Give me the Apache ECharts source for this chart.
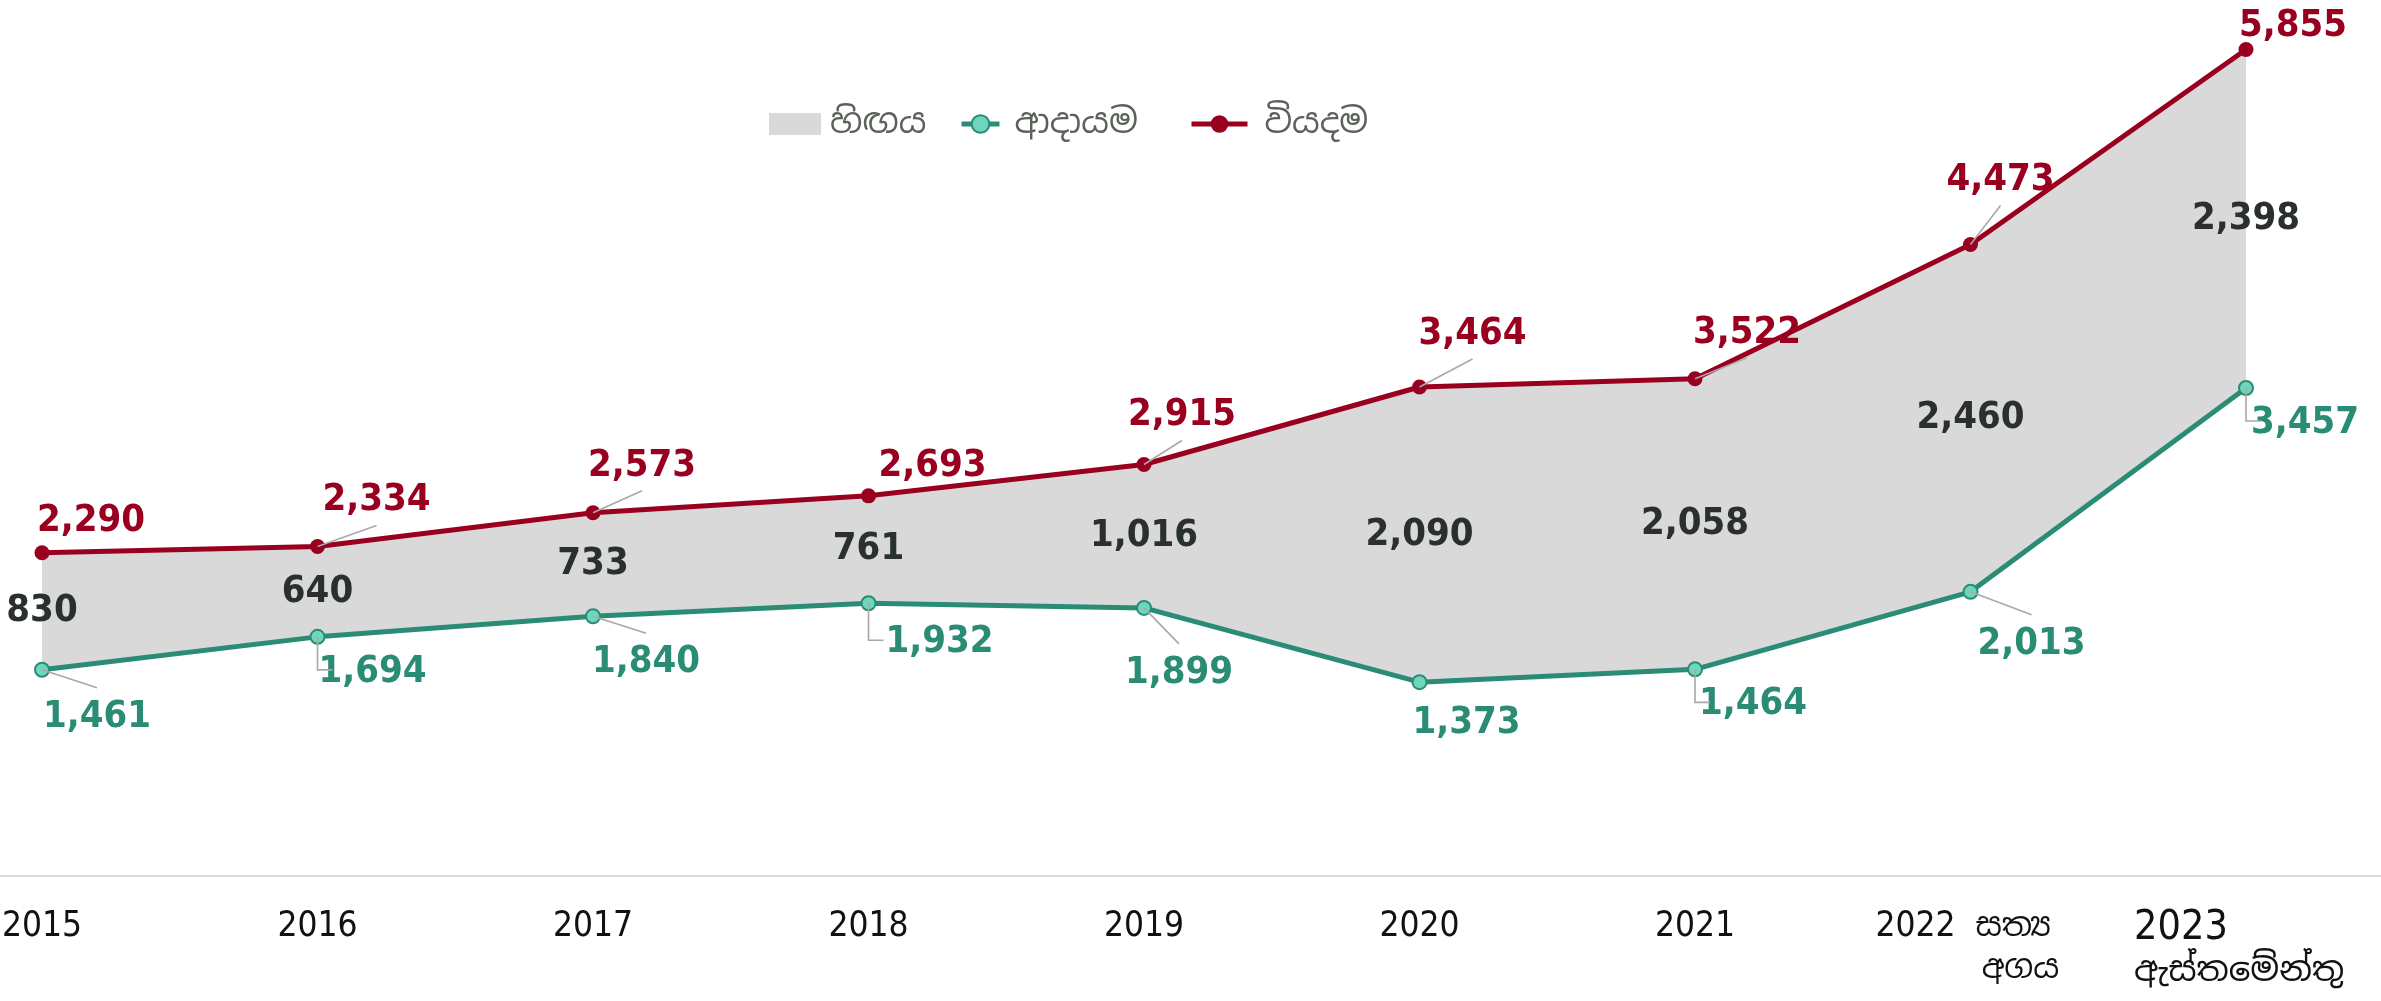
<!DOCTYPE html>
<html>
<head>
<meta charset="utf-8">
<script src="https://cdn.jsdelivr.net/npm/echarts@6/dist/echarts.min.js"></script>
<style>
  html, body { margin: 0; padding: 0; background: #fff; }
  #chart { width: 2381px; height: 1001px; }
</style>
</head>
<body>
<div id="chart"></div>
<script>
// data
var years = [2015, 2016, 2017, 2018, 2019, 2020, 2021, 2022, 2023];
var income = [1461, 1694, 1840, 1932, 1899, 1373, 1464, 2013, 3457];
var expense = [2290, 2334, 2573, 2693, 2915, 3464, 3522, 4473, 5855];
var deficit = [830, 640, 733, 761, 1016, 2090, 2058, 2460, 2398];
var legendNames = ['හිඟය', 'ආදායම', 'වියදම'];
var actualText = ['සත්‍ය', 'අගය'];
var estimateText = 'ඇස්තමේන්තු';

// label offsets and leader line kind (0 none, 1 straight, 2 elbow) - layout only
var redOff = [[49, -32], [59, -46], [49, -47], [64, -30], [38, -49], [53, -53], [52, -46], [30, -64], [47, -23]];
var greenOff = [[55, 47], [55, 35], [53, 46], [71, 39], [35, 65], [47, 41], [58, 35], [61, 52], [59, 35]];
var redLead = [0, 1, 1, 0, 1, 1, 1, 1, 0];
var greenLead = [1, 2, 1, 2, 1, 0, 2, 1, 2];

var RED = '#990020';
var GREEN = '#2a8c74';
var GREEN_FILL = '#6fd6bd';
var GREY = '#d9d9d9';
var DARK = '#2a302b';
var LEADER = '#a8a8a8';
var NUM_FONT = "'Liberation Sans Narrow', 'DejaVu Sans Condensed', 'Roboto', sans-serif";
var SI_FONT = "'Noto Sans Sinhala', 'Iskoola Pota', 'Noto Sans', sans-serif";

function fmt(n) {
    return n.toLocaleString('en-US');
}

function pairs(arr) {
    return years.map(function (y, i) { return [y, arr[i]]; });
}

// thin grey leader from a point towards its label
function leader(offs, kinds, gap) {
    return function (params, api) {
        var i = params.dataIndex;
        if (!kinds[i]) return { type: 'group', children: [] };
        var p = api.coord([api.value(0), api.value(1)]);
        var cx = p[0] + offs[i][0], cy = p[1] + offs[i][1];
        var pts = kinds[i] === 1
            ? [p, [cx, cy + gap]]
            : [p, [p[0], cy - 2], [p[0] + 15, cy - 2]];
        return {
            type: 'polyline',
            shape: { points: pts },
            style: { stroke: LEADER, lineWidth: 1.6, fill: 'none' }
        };
    };
}

function valueLabel(color) {
    return {
        show: true,
        position: 'inside',
        color: color,
        textBorderWidth: 0,
        fontFamily: NUM_FONT,
        fontWeight: 'bold',
        fontSize: 38,
        formatter: function (p) { return fmt(p.value[1]); }
    };
}

var legendText = { fontFamily: SI_FONT, fontSize: 34, color: '#5b625a' };

var chart = echarts.init(document.getElementById('chart'));

chart.setOption({
    animation: false,
    legend: [
        {
            left: 764, top: 102, itemWidth: 52, itemHeight: 22, itemGap: 0,
            textStyle: Object.assign({ padding: [0, 0, 0, 4] }, legendText),
            data: [{ name: legendNames[0], icon: 'rect', itemStyle: { color: GREY } }]
        },
        {
            left: 954, top: 102, itemWidth: 38, itemHeight: 22, itemGap: 0,
            textStyle: Object.assign({ padding: [0, 0, 0, 10] }, legendText),
            data: [{ name: legendNames[1], lineStyle: { width: 5 } }]
        },
        {
            left: 1184, top: 102, itemWidth: 56, itemHeight: 22, itemGap: 0,
            textStyle: Object.assign({ padding: [0, 0, 0, 12] }, legendText),
            data: [{ name: legendNames[2], lineStyle: { width: 5 } }]
        }
    ],
    grid: { left: 0, right: 0, top: 29, bottom: 125, outerBoundsMode: 'none' },
    xAxis: {
        type: 'value',
        min: 2014.8475,
        max: 2023.49,
        splitLine: { show: false },
        axisTick: { show: false },
        axisLine: { show: true, lineStyle: { color: '#d9d9d9', width: 2 } },
        axisLabel: {
            customValues: years,
            margin: 30,
            color: '#111',
            fontFamily: NUM_FONT,
            fontSize: 35,
            lineHeight: 42,
            formatter: function (v) {
                if (v === 2022) {
                    return '{y|2022}{s|' + actualText[0] + '}\n{p| }{s|' + actualText[1] + '}';
                }
                if (v === 2023) {
                    return '{big|2023}{sp| }\n{s2|' + estimateText + '}{sp| }';
                }
                return '{n|' + v + '}';
            },
            rich: {
                n: { fontFamily: NUM_FONT, fontSize: 35, lineHeight: 42, color: '#111' },
                y: { fontFamily: NUM_FONT, fontSize: 35, lineHeight: 42, color: '#111', width: 100, align: 'left' },
                p: { width: 100, lineHeight: 42 },
                s: { fontFamily: SI_FONT, fontSize: 32, lineHeight: 42, color: '#111', width: 90, align: 'left' },
                big: { fontFamily: NUM_FONT, fontSize: 41, lineHeight: 44, color: '#111', width: 150, align: 'left' },
                s2: { fontFamily: SI_FONT, fontSize: 34, lineHeight: 44, color: '#111', width: 150, align: 'left' },
                sp: { width: 74 }
            }
        }
    },
    yAxis: {
        type: 'value',
        min: 0,
        max: 6000,
        show: false,
        splitLine: { show: false }
    },
    series: [
        {
            // grey band between income and expenditure
            name: legendNames[0],
            type: 'custom',
            data: [[years[0], income[0]]],
            encode: { x: 0, y: 1 },
            itemStyle: { color: GREY },
            silent: true,
            z: 1,
            renderItem: function (params, api) {
                var top = [], bottom = [];
                for (var i = 0; i < years.length; i++) {
                    top.push(api.coord([years[i], expense[i]]));
                    bottom.unshift(api.coord([years[i], income[i]]));
                }
                return {
                    type: 'polygon',
                    shape: { points: top.concat(bottom) },
                    style: { fill: GREY }
                };
            }
        },
        {
            name: legendNames[1],
            type: 'line',
            data: pairs(income),
            symbol: 'circle',
            symbolSize: 14,
            showAllSymbol: true,
            lineStyle: { color: GREEN, width: 5 },
            itemStyle: { color: GREEN_FILL, borderColor: GREEN, borderWidth: 2 },
            label: valueLabel(GREEN),
            labelLayout: function (p) {
                var o = greenOff[p.dataIndex];
                return { dx: o[0], dy: o[1] };
            },
            z: 3
        },
        {
            name: legendNames[2],
            type: 'line',
            data: pairs(expense),
            symbol: 'circle',
            symbolSize: 15,
            showAllSymbol: true,
            lineStyle: { color: RED, width: 5 },
            itemStyle: { color: RED },
            label: valueLabel(RED),
            labelLayout: function (p) {
                var o = redOff[p.dataIndex];
                return { dx: o[0], dy: o[1] };
            },
            z: 4
        },
        {
            name: 'incomeLeaders',
            type: 'custom',
            data: pairs(income),
            encode: { x: 0, y: 1 },
            silent: true,
            z: 5,
            renderItem: leader(greenOff, greenLead, -29)
        },
        {
            name: 'expenseLeaders',
            type: 'custom',
            data: pairs(expense),
            encode: { x: 0, y: 1 },
            silent: true,
            z: 5,
            renderItem: leader(redOff, redLead, 25)
        },
        {
            name: 'gapLabels',
            type: 'scatter',
            data: years.map(function (y, i) { return [y, income[i] + deficit[i] / 2, deficit[i]]; }),
            symbolSize: 0,
            itemStyle: { color: DARK, opacity: 1 },
            label: {
                show: true,
                position: 'inside',
                color: DARK,
                textBorderWidth: 0,
                fontFamily: NUM_FONT,
                fontWeight: 'bold',
                fontSize: 38,
                formatter: function (p) { return fmt(p.value[2]); }
            },
            silent: true,
            z: 5
        }
    ]
});
</script>
</body>
</html>
